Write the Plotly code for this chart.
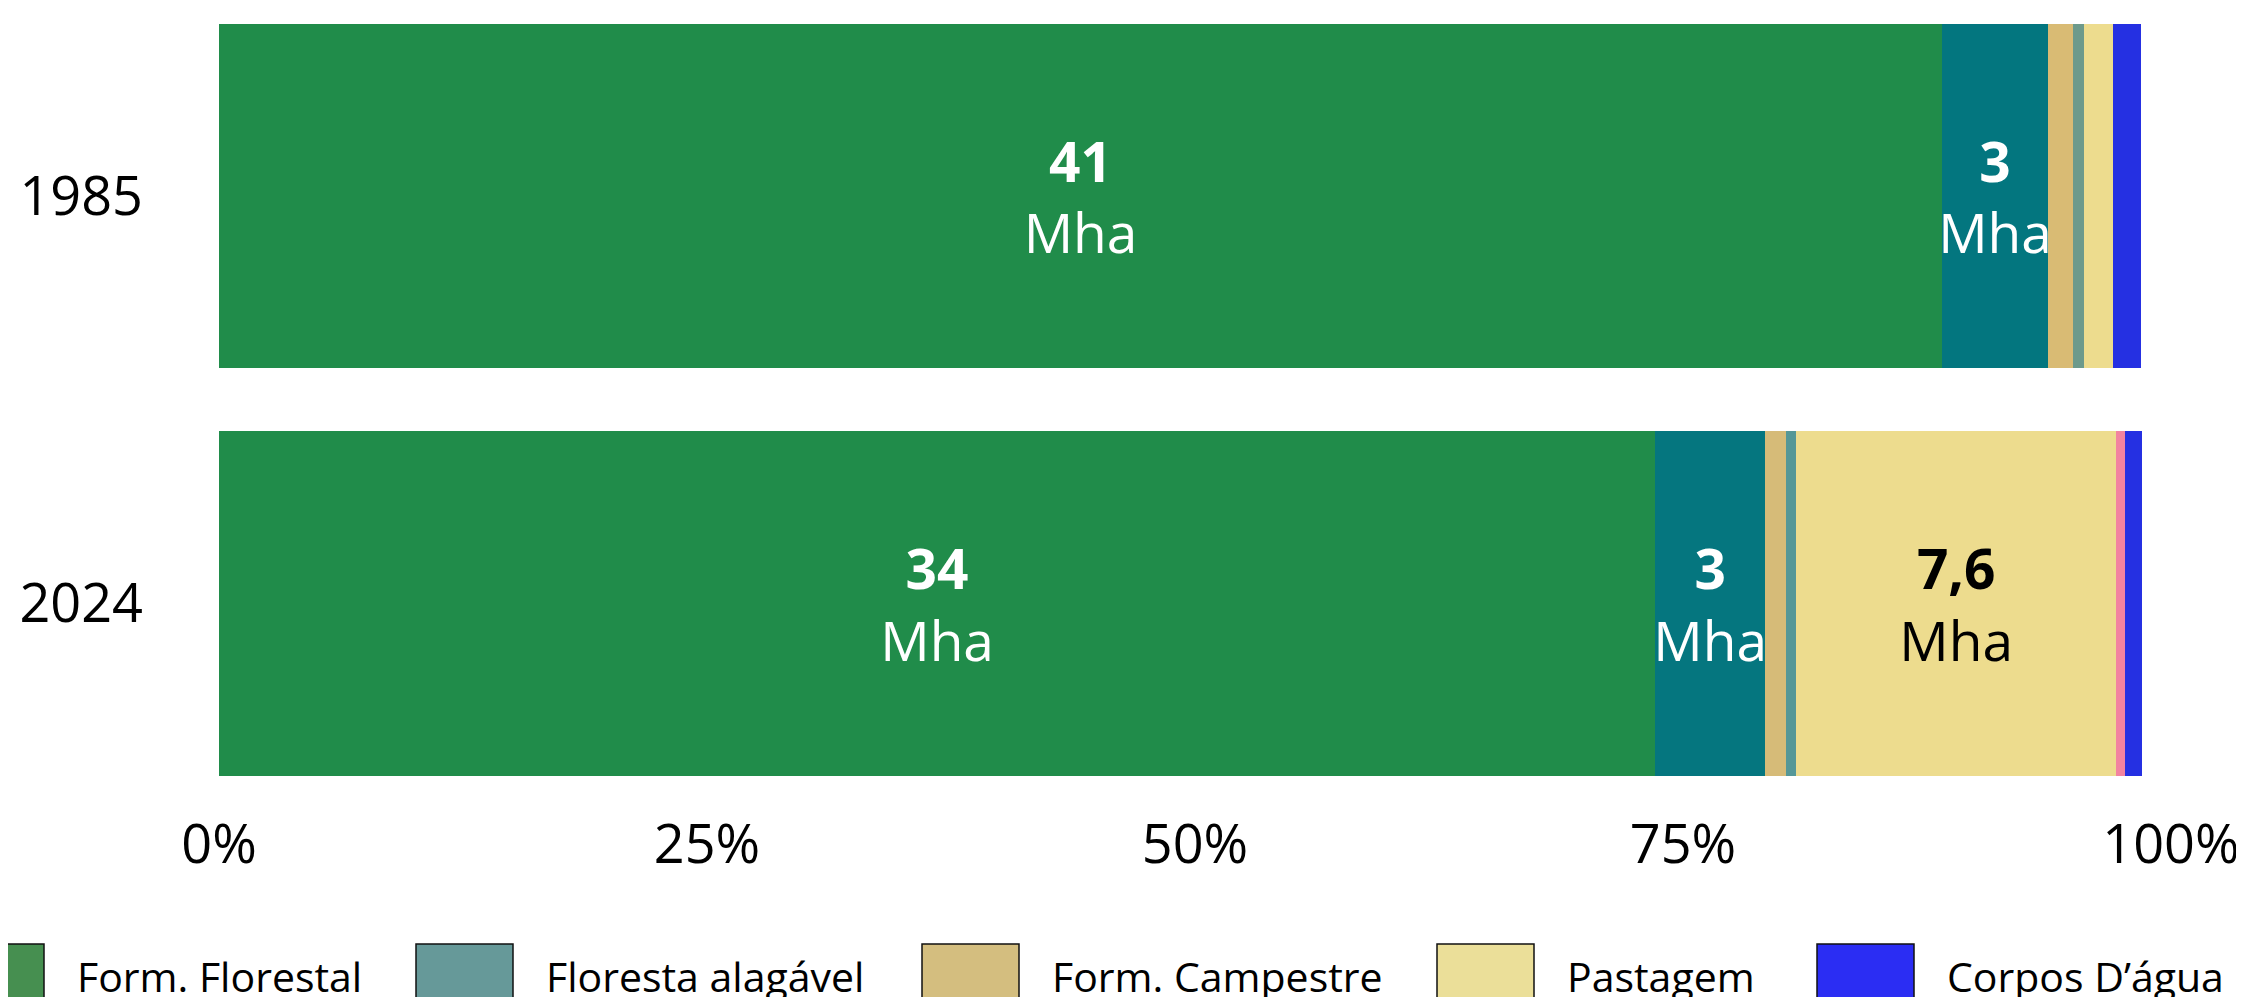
import plotly.graph_objects as go

# ---------------- data ----------------
years = ["1985", "2024"]

form_florestal = [88.27, 73.57]
floresta_alagavel = [5.43, 5.64]
form_campestre = [1.28, 1.08]
campo_alagado = [0.56, 0.51]
pastagem = [1.49, 16.39]
outros_usos = [0.0, 0.46]
corpos_dagua = [1.43, 0.87]

label_florestal = ["41", "34"]
label_alagavel = ["3", "3"]
label_pastagem = ["", "7,6"]

tick_vals = [0, 25, 50, 75, 100]
tick_text = ["0%", "25%", "50%", "75%", "100%"]

legend_names = ["Form. Florestal", "Floresta alagável", "Form. Campestre", "Pastagem", "Corpos D’água"]
legend_colors = ["#468f50", "#669999", "#d4be7f", "#ebdf99", "#2b2df3"]

# ---------------- styles ----------------
FONT = "Open Sans"
OFF = 8  # page body margin of the html page
W, H = 2244, 997
ML, MR, MT, MB = 219 - OFF, 2244 - (2171 - OFF), 0, 205
PLOT_W = W - ML - MR
PLOT_H = H - MT - MB
BAND = 407.5
C1985 = 196 - OFF
Y_TOP = -C1985 / BAND
Y_BOT = Y_TOP + PLOT_H / BAND


def txt(vals):
    return [f"<b>{v}</b><br>Mha" if v else "" for v in vals]


series = [
    ("Form. Florestal", form_florestal, ["#208c4a", "#208c4a"], txt(label_florestal), "white"),
    ("Floresta alagável", floresta_alagavel, ["#03767f", "#05767f"], txt(label_alagavel), "white"),
    ("Form. Campestre", form_campestre, ["#d9bb74", "#d6bb78"], None, "white"),
    ("Campo alagado", campo_alagado, ["#6d9a8b", "#559797"], None, "white"),
    ("Pastagem", pastagem, ["#eddc8e", "#eddc8e"], txt(label_pastagem), "black"),
    ("Outros usos", outros_usos, ["#f283a0", "#f283a0"], None, "white"),
    ("Corpos D’água", corpos_dagua, ["#2530e2", "#2530e2"], None, "white"),
]

fig = go.Figure()
for name, vals, colors, text, tcolor in series:
    fig.add_trace(go.Bar(
        y=years, x=vals, name=name, orientation="h",
        marker=dict(color=colors, line=dict(width=0)),
        text=text if text else None,
        textposition="inside" if text else "none",
        insidetextanchor="middle",
        constraintext="none",
        textangle=0,
        textfont=dict(family=FONT, size=55, color=tcolor),
        width=0.845,
        showlegend=False,
        hoverinfo="skip",
    ))

# manual legend (large swatches with black borders), partially cut at the bottom
sw_left = [-53, 416, 922, 1437, 1817]
sw_w = 97
sw_top = 944
text_gap = 31


def px_x(p):
    return (p - OFF - ML) / PLOT_W


def px_y(p):
    return (MT + PLOT_H - (p - OFF)) / PLOT_H


shapes = []
annotations = []
for i, name in enumerate(legend_names):
    x0 = sw_left[i]
    shapes.append(dict(
        type="rect", xref="paper", yref="paper",
        x0=px_x(x0), x1=px_x(x0 + sw_w), y0=px_y(sw_top + sw_w), y1=px_y(sw_top),
        fillcolor=legend_colors[i], line=dict(color="#111111", width=1.5),
    ))
    annotations.append(dict(
        xref="paper", yref="paper", x=px_x(x0 + sw_w + text_gap), y=px_y(976),
        xanchor="left", yanchor="middle", showarrow=False,
        text=name, font=dict(family=FONT, size=41, color="black"),
    ))

fig.update_layout(
    width=W, height=H,
    margin=dict(l=ML, r=MR, t=MT, b=MB, pad=0),
    barmode="stack",
    paper_bgcolor="white", plot_bgcolor="white",
    font=dict(family=FONT, color="black"),
    shapes=shapes, annotations=annotations,
    xaxis=dict(
        range=[0, 100], tickvals=tick_vals, ticktext=tick_text,
        showgrid=False, zeroline=False, showline=False, ticks="",
        tickfont=dict(family=FONT, size=54, color="black"),
        ticklabelstandoff=8, fixedrange=True,
    ),
    yaxis=dict(
        type="category", categoryarray=years, range=[Y_BOT, Y_TOP],
        showgrid=False, zeroline=False, showline=False, ticks="",
        tickfont=dict(family=FONT, size=54, color="black"),
        ticklabelstandoff=75, fixedrange=True,
    ),
)

fig.write_html("out.html")
